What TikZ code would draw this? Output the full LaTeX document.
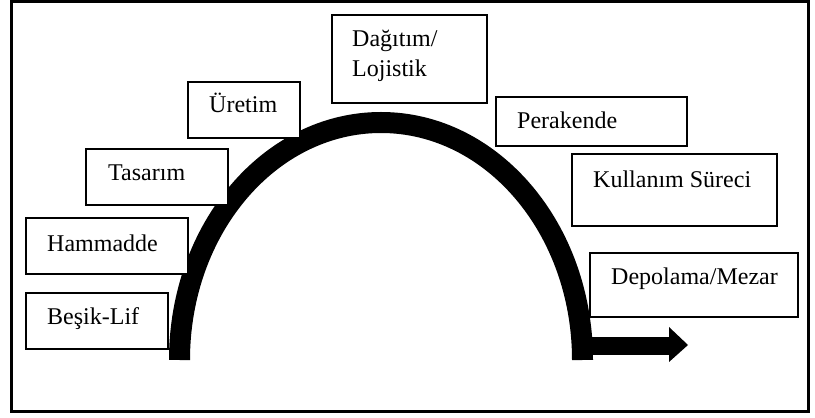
\documentclass[tikz,border=0pt]{standalone}
\usepackage{fontspec}
\setmainfont{Liberation Serif}
\begin{document}
\begin{tikzpicture}[x=1pt,y=1pt,
  frame/.style={draw=black,line width=3pt},
  stagebox/.style={draw=black,fill=white,line width=1.4pt,inner sep=0pt},
  stagetext/.style={anchor=base west,inner sep=0pt,font=\fontsize{24}{30}\selectfont,align=left},
  band/.style={line width=21pt,black}]
\useasboundingbox (0,0) rectangle (815,418);
\draw[frame] (11,6) rectangle (808,416);

% the life-cycle band and its outgoing arrow
\coordinate (legL) at (179.5,58);
\coordinate (legR) at (582.5,58);
\draw[band] (legL) arc[start angle=180,end angle=0,x radius=201.5,y radius=237.5];
\fill[black] (582.5,63) rectangle (669,81);
\fill[black] (669,91) -- (688,73) -- (669,56) -- cycle;

% stage boxes
\node[stagebox,minimum width=112pt,minimum height=56pt] (uretimB) at (244,308) {};
\node[stagebox,minimum width=142pt,minimum height=56pt] (tasarimB) at (157,241) {};
\node[stagebox,minimum width=162pt,minimum height=56pt] (hamB) at (107,172) {};
\node[stagebox,minimum width=142pt,minimum height=56pt] (besikB) at (97,97) {};
\node[stagebox,minimum width=155pt,minimum height=88pt] (dagB) at (409.5,359) {};
\node[stagebox,minimum width=191pt,minimum height=49pt] (perB) at (591.5,296.5) {};
\node[stagebox,minimum width=205pt,minimum height=72pt] (kulB) at (674.5,228) {};
\node[stagebox,minimum width=208pt,minimum height=64pt] (depB) at (694,133) {};

% stage names (the two-line label sits on the baseline of its last line)
\node[stagetext] (uretim) at (209,305) {Üretim};
\node[stagetext] (tasarim) at (108,237) {Tasarım};
\node[stagetext] (ham) at (47,166) {Hammadde};
\node[stagetext] (besik) at (47,93) {Beşik-Lif};
\node[stagetext] (dag) at (352,341) {Dağıtım/\\Lojistik};
\node[stagetext] (per) at (517,289) {Perakende};
\node[stagetext] (kul) at (593,230) {Kullanım Süreci};
\node[stagetext] (dep) at (611,133) {Depolama/Mezar};
\end{tikzpicture}
\end{document}
